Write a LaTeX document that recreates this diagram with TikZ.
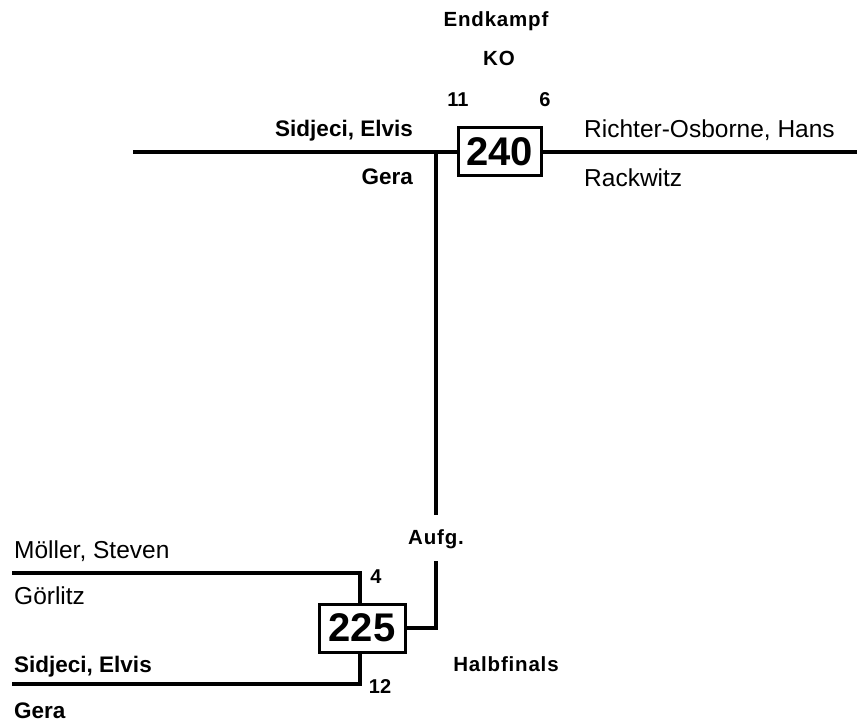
\documentclass[tikz,border=0pt]{standalone}
\usepackage{fontspec}
\setmainfont{Liberation Sans}
\begin{document}
\begin{tikzpicture}[x=1pt,y=-1pt,
  bline/.style={line width=4.5pt},
  boxnode/.style={draw,line width=3pt,inner sep=0pt,font=\fontsize{40}{40}\selectfont\bfseries},
  namereg/.style={font=\fontsize{24.5}{26}\selectfont,inner sep=0pt},
  namebf/.style={font=\fontsize{22.5}{24}\selectfont\bfseries,inner sep=0pt},
  lbl/.style={font=\fontsize{20.5}{22}\selectfont\bfseries\addfontfeature{LetterSpace=4},inner sep=0pt},
  num/.style={font=\fontsize{20}{22}\selectfont\bfseries,inner sep=0pt}]
\useasboundingbox (0,0) rectangle (857,722);
% final
\node[boxnode,minimum width=83pt,minimum height=48pt] (b240) at (499.5,152) {240};
\coordinate (tl) at (133,152);
\coordinate (tr) at (857,152);
\coordinate (tj) at (436,152);
\draw[bline] (tl) -- (b240.west);
\draw[bline] (b240.east) -- (tr);
\node[lbl,anchor=base] (endk) at (496,27) {Endkampf};
\node[lbl,anchor=base] (ko) at (499,66) {KO};
\node[num,anchor=base] (n11) at (458,107) {11};
\node[num,anchor=base] (n6) at (545,107) {6};
\node[namebf,anchor=base east] (s1) at (413,137) {Sidjeci, Elvis};
\node[namebf,anchor=base east] (g1) at (413,185) {Gera};
\node[namereg,anchor=base west] (r1) at (584,138) {Richter-Osborne, Hans};
\node[namereg,anchor=base west] (r2) at (584,187) {Rackwitz};
\node[lbl,anchor=base] (aufg) at (436,544) {Aufg.};
\coordinate (vtop) at (436,515);
\draw[bline] (tj) -- (vtop);
% semi
\node[boxnode,minimum width=86pt,minimum height=48pt] (b225) at (362,628) {225};
\coordinate (vbot) at (436,561);
\coordinate (hj) at (436,628);
\draw[bline] (vbot) -- (hj) -- (b225.east);
\coordinate (u1) at (12,573);
\coordinate (u2) at (360,573);
\coordinate (l1) at (12,684);
\coordinate (l2) at (360,684);
\draw[bline] (u1) -- (u2) -- (b225.north -| u2);
\draw[bline] (l1) -- (l2) -- (b225.south -| l2);
\node[namereg,anchor=base west] (m1) at (14,558) {Möller, Steven};
\node[namereg,anchor=base west] (m2) at (14,604) {Görlitz};
\node[namebf,anchor=base west] (s2) at (14,672) {Sidjeci, Elvis};
\node[namebf,anchor=base west] (g2) at (14,718) {Gera};
\node[num,anchor=base] (n4) at (376,583) {4};
\node[num,anchor=base] (n12) at (380,693) {12};
\node[lbl,anchor=base] (hf) at (506,671) {Halbfinals};
\end{tikzpicture}
\end{document}
